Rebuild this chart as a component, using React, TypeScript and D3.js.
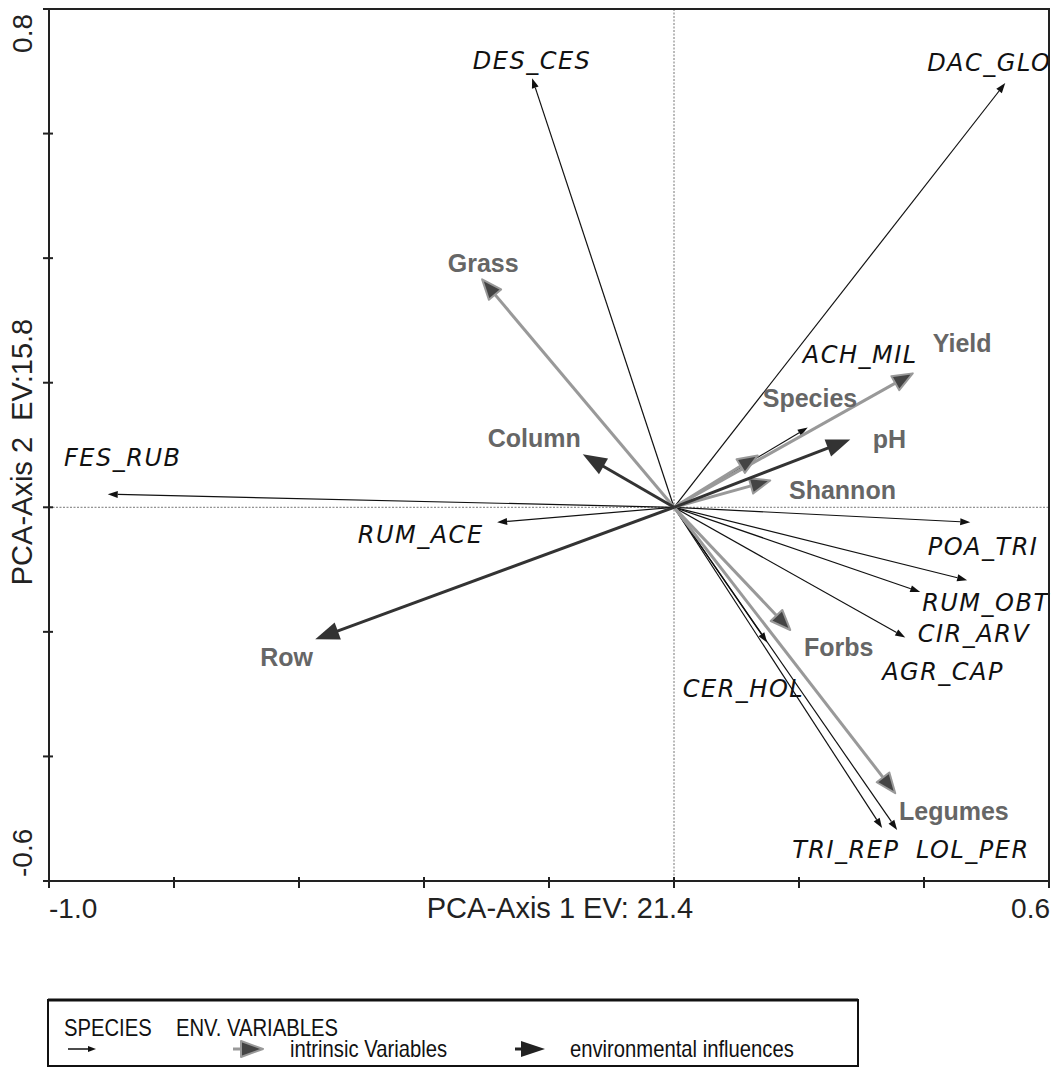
import React from "react";
import * as d3 from "d3";

// ---- Data (PCA biplot scores) ----
const speciesNames = ["DES_CES", "DAC_GLO", "ACH_MIL", "FES_RUB", "RUM_ACE", "POA_TRI", "RUM_OBT", "CIR_ARV", "AGR_CAP", "CER_HOL", "TRI_REP", "LOL_PER"];
const speciesX = [-0.227, 0.530, 0.214, -0.906, -0.283, 0.474, 0.469, 0.394, 0.370, 0.149, 0.333, 0.357];
const speciesY = [0.689, 0.681, 0.128, 0.021, -0.024, -0.024, -0.117, -0.136, -0.209, -0.217, -0.515, -0.518];
const speciesLabelX = [-0.322, 0.405, 0.206, -0.976, -0.506, 0.406, 0.397, 0.390, 0.333, 0.014, 0.189, 0.387];
const speciesLabelY = [0.703, 0.701, 0.231, 0.066, -0.058, -0.077, -0.167, -0.217, -0.278, -0.305, -0.563, -0.563];

const intrinsicNames = ["Grass", "Yield", "Species", "Shannon", "Forbs", "Legumes"];
const intrinsicX = [-0.307, 0.382, 0.134, 0.154, 0.186, 0.354];
const intrinsicY = [0.366, 0.215, 0.083, 0.043, -0.197, -0.459];
const intrinsicLabelX = [-0.362, 0.414, 0.142, 0.184, 0.208, 0.360];
const intrinsicLabelY = [0.377, 0.249, 0.161, 0.014, -0.238, -0.502];

const envNames = ["Column", "Row", "pH"];
const envX = [-0.146, -0.574, 0.282];
const envY = [0.085, -0.212, 0.109];
const envLabelX = [-0.298, -0.662, 0.318];
const envLabelY = [0.096, -0.255, 0.095];

const xTicks = [-1.0, -0.8, -0.6, -0.4, -0.2, 0.0, 0.2, 0.4, 0.6];
const yTicks = [-0.6, -0.4, -0.2, 0.0, 0.2, 0.4, 0.6, 0.8];
const xAxisTitle = "PCA-Axis 1 EV: 21.4";
const yAxisTitle = "PCA-Axis 2\u00a0\u00a0EV:15.8";
const legendHeaders = ["SPECIES", "ENV. VARIABLES"];
const legendItems = ["intrinsic Variables", "environmental influences"];

const W = 1054;
const H = 1068;

const x = d3.scaleLinear().domain([-1.0, 0.6]).range([49, 1049]);
const y = d3.scaleLinear().domain([-0.6, 0.8]).range([881, 9]);

function head(x1: number, y1: number, x2: number, y2: number, L: number, Wd: number) {
  const dx = x2 - x1, dy = y2 - y1;
  const len = Math.hypot(dx, dy) || 1;
  const ux = dx / len, uy = dy / len;
  const bx = x2 - ux * L, by = y2 - uy * L;
  const px = -uy * Wd, py = ux * Wd;
  const pts = [[x2, y2], [bx + px, by + py], [bx - px, by - py]];
  return { poly: pts.map((p) => p.join(",")).join(" "), bx, by };
}

const speciesFont = "'DejaVu Sans', Verdana, sans-serif";
const boldFont = "'Liberation Sans', Arial, sans-serif";
const legendFont = "'Liberation Sans Narrow', 'Liberation Sans', Arial, sans-serif";
const fmt = (v: number) => d3.format(".1f")(v).replace("\u2212", "-");

function LegendText({ x0, y0, children }: { x0: number; y0: number; children: React.ReactNode }) {
  return (
    <text transform={`translate(${x0},${y0}) scale(0.88,1)`} fontFamily={legendFont} fontSize={23} fill="#111">
      {children}
    </text>
  );
}

export default function App() {
  const ox = x(0), oy = y(0);
  return (
    <svg width={W} height={H} style={{ position: "absolute", left: 0, top: 0, background: "#fff" }}>
      {/* zero lines */}
      <line x1={ox} x2={ox} y1={y(0.8)} y2={y(-0.6)} stroke="#777" strokeWidth={1} strokeDasharray="2,1.5" />
      <line x1={x(-1.0)} x2={x(0.6)} y1={oy} y2={oy} stroke="#777" strokeWidth={1} strokeDasharray="2,1.5" />

      {/* species arrows */}
      {speciesNames.map((n, i) => {
        const tx = x(speciesX[i]), ty = y(speciesY[i]);
        const h = head(ox, oy, tx, ty, 10, 3.5);
        return (
          <g key={n}>
            <line x1={ox} y1={oy} x2={h.bx} y2={h.by} stroke="#111" strokeWidth={1.2} />
            <polygon points={h.poly} fill="#111" />
          </g>
        );
      })}

      {/* intrinsic variables */}
      {intrinsicNames.map((n, i) => {
        const tx = x(intrinsicX[i]), ty = y(intrinsicY[i]);
        const h = head(ox, oy, tx, ty, 20, 8);
        return (
          <g key={n}>
            <line x1={ox} y1={oy} x2={h.bx} y2={h.by} stroke="#999" strokeWidth={3} />
            <polygon points={h.poly} fill="#444" stroke="#999" strokeWidth={2} strokeLinejoin="round" />
          </g>
        );
      })}

      {/* environmental influences */}
      {envNames.map((n, i) => {
        const tx = x(envX[i]), ty = y(envY[i]);
        const h = head(ox, oy, tx, ty, 24, 9);
        return (
          <g key={n}>
            <line x1={ox} y1={oy} x2={h.bx + (tx - h.bx) * 0.2} y2={h.by + (ty - h.by) * 0.2} stroke="#333" strokeWidth={3} />
            <polygon points={h.poly} fill="#333" />
          </g>
        );
      })}

      {/* species labels */}
      {speciesNames.map((n, i) => (
        <text key={"l" + n} x={x(speciesLabelX[i])} y={y(speciesLabelY[i])} fontFamily={speciesFont} fontStyle="italic" fontSize={24} letterSpacing={1.5} fill="#111">
          {n}
        </text>
      ))}
      {intrinsicNames.map((n, i) => (
        <text key={"l" + n} x={x(intrinsicLabelX[i])} y={y(intrinsicLabelY[i])} fontFamily={boldFont} fontWeight="bold" fontSize={25} fill="#666">
          {n}
        </text>
      ))}
      {envNames.map((n, i) => (
        <text key={"l" + n} x={x(envLabelX[i])} y={y(envLabelY[i])} fontFamily={boldFont} fontWeight="bold" fontSize={25} fill="#666">
          {n}
        </text>
      ))}

      {/* frame */}
      <rect x={x(-1.0)} y={y(0.8)} width={x(0.6) - x(-1.0)} height={y(-0.6) - y(0.8)} fill="none" stroke="#222" strokeWidth={2} />

      {/* ticks */}
      {xTicks.map((t) => (
        <line key={"xt" + t} x1={x(t)} x2={x(t)} y1={y(-0.6) - 4} y2={y(-0.6) + 7} stroke="#222" strokeWidth={2} />
      ))}
      {yTicks.map((t) => (
        <line key={"yt" + t} x1={x(-1.0) - 6} x2={x(-1.0) + 4} y1={y(t)} y2={y(t)} stroke="#222" strokeWidth={2} />
      ))}

      {/* tick labels */}
      <text x={x(-1.0)} y={918} fontFamily={boldFont} fontSize={28} fill="#222">{fmt(xTicks[0])}</text>
      <text x={x(0.6) + 1} y={918} fontFamily={boldFont} fontSize={28} fill="#222" textAnchor="end">{fmt(xTicks[xTicks.length - 1])}</text>
      <text x={560} y={918} fontFamily={boldFont} fontSize={29} fill="#222" textAnchor="middle">{xAxisTitle}</text>

      <text transform={`translate(32,${y(0.8) + 5}) rotate(-90)`} fontFamily={boldFont} fontSize={28} fill="#222" textAnchor="end">{fmt(yTicks[yTicks.length - 1])}</text>
      <text transform={`translate(32,${y(-0.6) - 4}) rotate(-90)`} fontFamily={boldFont} fontSize={28} fill="#222" textAnchor="start">{fmt(yTicks[0])}</text>
      <text transform={`translate(32,452) rotate(-90)`} fontFamily={boldFont} fontSize={29} fill="#222" textAnchor="middle">{yAxisTitle}</text>

      {/* legend */}
      <rect x={48} y={1000} width={810} height={66} fill="#fff" stroke="#111" strokeWidth={2} />
      <line x1={48} x2={858} y1={1000} y2={1000} stroke="#111" strokeWidth={3} />
      <LegendText x0={64} y0={1036}>{legendHeaders[0]}</LegendText>
      <LegendText x0={176} y0={1036}>{legendHeaders[1]}</LegendText>
      {(() => {
        const h = head(68, 1049, 96, 1049, 8, 3);
        return (
          <g>
            <line x1={68} y1={1049} x2={h.bx} y2={1049} stroke="#111" strokeWidth={1.5} />
            <polygon points={h.poly} fill="#111" />
          </g>
        );
      })()}
      {(() => {
        const h = head(233, 1049, 263, 1049, 22, 8);
        return (
          <g>
            <line x1={233} y1={1049} x2={h.bx} y2={1049} stroke="#999" strokeWidth={3} />
            <polygon points={h.poly} fill="#444" stroke="#999" strokeWidth={2} strokeLinejoin="round" />
          </g>
        );
      })()}
      <LegendText x0={290} y0={1057}>{legendItems[0]}</LegendText>
      {(() => {
        const h = head(515, 1049, 545, 1049, 24, 8);
        return (
          <g>
            <line x1={515} y1={1049} x2={h.bx} y2={1049} stroke="#222" strokeWidth={3} />
            <polygon points={h.poly} fill="#222" />
          </g>
        );
      })()}
      <LegendText x0={570} y0={1057}>{legendItems[1]}</LegendText>
    </svg>
  );
}
